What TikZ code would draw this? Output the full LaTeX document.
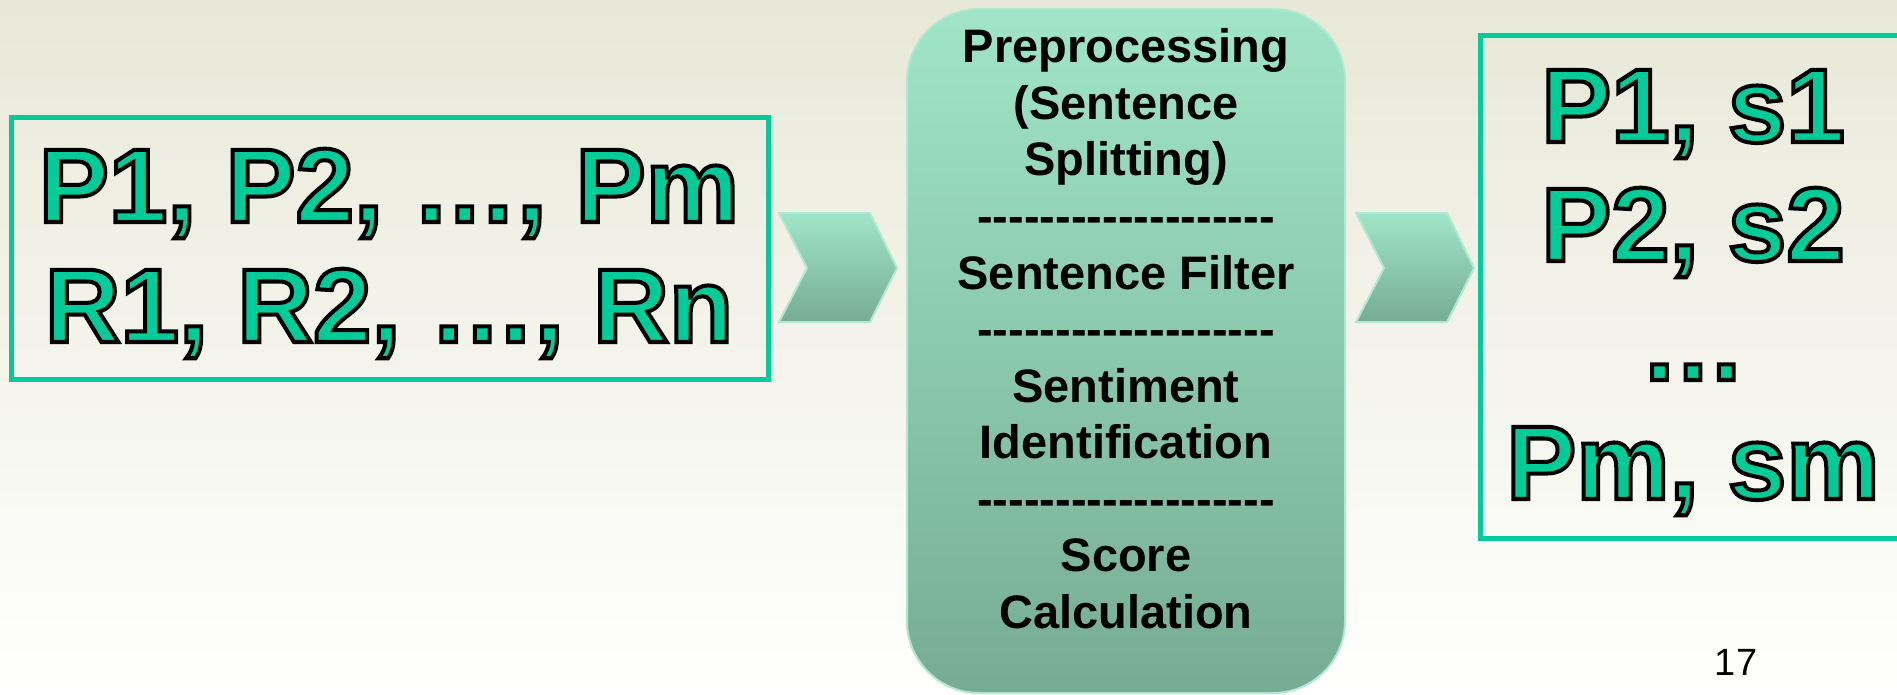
\documentclass[tikz,border=0pt]{standalone}
\usepackage{fontspec}
\setmainfont{Liberation Sans}[Ligatures=TeXOff]
\definecolor{bgtop}{RGB}{232,232,216}
\definecolor{tgreen}{RGB}{0,204,153}
\definecolor{mtop}{RGB}{160,229,200}
\definecolor{mbot}{RGB}{118,172,148}
\definecolor{medge}{RGB}{178,232,210}
\newcommand\otext[3]{%
  \node[bigtxt,text=tgreen] (#2) at (#1) {\special{pdf:literal direct 2 Tr 4 w 0 0 0 RG}#3\special{pdf:literal direct 0 Tr}};}
\begin{document}
\begin{tikzpicture}[x=1pt,y=-1pt,
  bigtxt/.style={font=\fontsize{105}{118}\selectfont\bfseries, inner sep=0pt, anchor=base},
  midtxt/.style={font=\fontsize{47}{57}\selectfont\bfseries, inner sep=0pt, anchor=base, text=black},
  gbox/.style={draw=tgreen, line width=5pt, inner sep=0pt},
  chev/.style={top color=mtop, bottom color=mbot, draw=medge, line width=2pt},
  procbox/.style={top color=mtop, bottom color=mbot, draw=medge, line width=2pt, rounded corners=72pt, inner sep=0pt},
]
\useasboundingbox (0,0) rectangle (1897,695);
\clip (0,0) rectangle (1897,695);
\shade[top color=bgtop, bottom color=white] (0,0) rectangle (1897,695);

% input box
\node[gbox, minimum width=757pt, minimum height=262pt] (inbox) at (389.5,248.5) {};
% chevron 1
\draw[chev] (779,213) -- (870,213) -- (897,268) -- (870,322) -- (779,322) -- (807,268) -- cycle;
% process box
\node[procbox, minimum width=438pt, minimum height=684pt] (proc) at (1126,351) {};
% chevron 2
\draw[chev] (1356,213) -- (1447,213) -- (1474,268) -- (1447,322) -- (1356,322) -- (1384,268) -- cycle;
% output box
\node[gbox, minimum width=430pt, minimum height=502pt] (outbox) at (1695,287) {};

\otext{389,222}{in1}{P1, P2, …, Pm}
\otext{389,342}{in2}{R1, R2, …, Rn}
\otext{1693,142}{o1}{P1, s1}
\otext{1693,261}{o2}{P2, s2}
\otext{1693,380}{o3}{…}
\otext{1693,499}{o4}{Pm, sm}

\foreach \t [count=\i from 0] in {{Preprocessing},{(Sentence},{Splitting)},{-------------------},{Sentence Filter},{-------------------},{Sentiment},{Identification},{-------------------},{Score},{Calculation}}
  \node[midtxt] (m\i) at (1126,{63+56.5*\i}) {\t};

\node[font=\fontsize{38}{40}\selectfont, anchor=base, inner sep=0pt] (pg) at (1736,675) {17};
\end{tikzpicture}
\end{document}
